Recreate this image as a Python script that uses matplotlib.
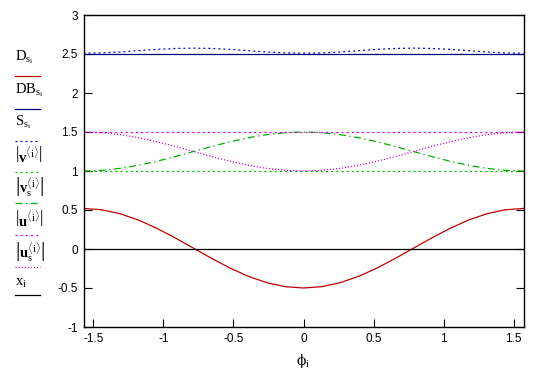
import matplotlib
matplotlib.use("Agg")
import matplotlib.pyplot as plt
from matplotlib.lines import Line2D
from matplotlib.ticker import FormatStrFormatter, MultipleLocator

plt.rcParams['axes.unicode_minus'] = False
plt.rcParams['lines.scale_dashes'] = False
plt.rcParams['mathtext.fontset'] = 'custom'
plt.rcParams['mathtext.rm'] = 'Liberation Serif'
plt.rcParams['mathtext.it'] = 'Liberation Serif:italic'
plt.rcParams['mathtext.bf'] = 'Liberation Serif:bold'

# phi from -pi/2 to pi/2 (25 samples)
phi = [-1.571, -1.440, -1.309, -1.178, -1.047, -0.916, -0.785, -0.654, -0.524,
       -0.393, -0.262, -0.131, 0.0, 0.131, 0.262, 0.393, 0.524, 0.654, 0.785,
       0.916, 1.047, 1.178, 1.309, 1.440, 1.571]

D = [0.52, 0.503, 0.452, 0.371, 0.265, 0.142, 0.01, -0.122, -0.245, -0.351,
     -0.432, -0.483, -0.50, -0.483, -0.432, -0.351, -0.245, -0.122, 0.01,
     0.142, 0.265, 0.371, 0.452, 0.503, 0.52]
DB = [2.5] * 25
S = [2.51, 2.514, 2.526, 2.543, 2.559, 2.571, 2.575, 2.571, 2.559, 2.543,
     2.526, 2.514, 2.51, 2.514, 2.526, 2.543, 2.559, 2.571, 2.575, 2.571,
     2.559, 2.543, 2.526, 2.514, 2.51]
v = [1.0] * 25
v_s = [1.0, 1.009, 1.034, 1.073, 1.125, 1.185, 1.25, 1.315, 1.375, 1.427,
       1.466, 1.492, 1.5, 1.492, 1.466, 1.427, 1.375, 1.315, 1.25, 1.185,
       1.125, 1.073, 1.034, 1.009, 1.0]
u = [1.5] * 25
u_s = [1.5, 1.491, 1.466, 1.427, 1.375, 1.315, 1.25, 1.185, 1.125, 1.073,
       1.034, 1.009, 1.0, 1.009, 1.034, 1.073, 1.125, 1.185, 1.25, 1.315,
       1.375, 1.427, 1.466, 1.491, 1.5]
x = [0.0] * 25

labels = [r'$\mathrm{D}_{\mathrm{s}_{\mathrm{i}}}$',
          r'$\mathrm{DB}_{\mathrm{s}_{\mathrm{i}}}$',
          r'$\mathrm{S}_{\mathrm{s}_{\mathrm{i}}}$',
          r'$\left|\mathbf{v}^{\langle\mathrm{i}\rangle}\right|$',
          r'$\left|\mathbf{v}_{\mathrm{s}}^{\langle\mathrm{i}\rangle}\right|$',
          r'$\left|\mathbf{u}^{\langle\mathrm{i}\rangle}\right|$',
          r'$\left|\mathbf{u}_{\mathrm{s}}^{\langle\mathrm{i}\rangle}\right|$',
          r'$\mathrm{x}_{\mathrm{i}}$']

series = [D, DB, S, v, v_s, u, u_s, x]
colors = ['#c00000', '#000080', '#0000ff', '#00c000', '#00b000',
          '#e000e0', '#d000d0', '#000000']
styles = ['-', '-', (0, (1.4, 2.2)), (0, (1.5, 2.2)), (0, (5, 2.5, 1, 2.5)),
          (0, (1.5, 2.2)), (0, (0.8, 1.4)), '-']

fig = plt.figure(figsize=(5.5, 3.84), dpi=100)
ax = fig.add_axes([83.5 / 550, 1 - 327 / 384, 440 / 550, 312 / 384])

for ys, c, ls in zip(series, colors, styles):
    ax.plot(phi, ys, color=c, linestyle=ls, linewidth=0.9)

ax.set_xlim(-1.571, 1.571)
ax.set_ylim(-1, 3)
ax.xaxis.set_major_locator(MultipleLocator(0.5))
ax.yaxis.set_major_locator(MultipleLocator(0.5))
ax.xaxis.set_major_formatter(FormatStrFormatter('%g'))
ax.yaxis.set_major_formatter(FormatStrFormatter('%g'))
ax.tick_params(direction='in', right=True, length=6, width=0.8,
               labelsize=8.5, pad=4)
for lab in ax.get_xticklabels() + ax.get_yticklabels():
    lab.set_fontfamily('Liberation Sans')
for sp in ax.spines.values():
    sp.set_linewidth(1.0)
ax.set_xlabel('\u03d5$_{\\mathrm{i}}$', fontsize=10, labelpad=5,
              family=['DejaVu Serif'])

# Mathcad-style legend at the left: label with its line sample underneath
text_y = [57, 90, 122, 155, 187, 219, 252, 283]
line_y = [76, 109, 141, 172, 203, 235, 267, 295]
for lab, ty, ly, c, ls in zip(labels, text_y, line_y, colors, styles):
    fig.text(15 / 550, 1 - ty / 384, lab, fontsize=10.5, va='center', ha='left')
    fig.add_artist(Line2D([15 / 550, 40 / 550], [1 - ly / 384] * 2,
                          color=c, linestyle=ls, linewidth=0.9,
                          transform=fig.transFigure))

fig.savefig('out.png', dpi=100)
